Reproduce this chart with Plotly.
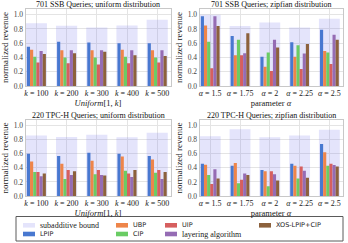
import plotly.graph_objects as go

# ---------------- data ----------------
uniform_cats = ["<i>k</i> = 100", "<i>k</i> = 200", "<i>k</i> = 300", "<i>k</i> = 400", "<i>k</i> = 500"]
zipf_cats = ["<i>α</i> = 1.5", "<i>α</i> = 1.75", "<i>α</i> = 2", "<i>α</i> = 2.25", "<i>α</i> = 2.5"]

series_names = ["LPIP", "UBP", "CIP", "UIP", "layering algorithm", "XOS-LPIP+CIP"]
bound_name = "subadditive bound"

ssb_uni_bound = [0.88, 0.845, 0.82, 0.85, 0.93]
ssb_uni_lpip = [0.55, 0.62, 0.61, 0.60, 0.60]
ssb_uni_ubp = [0.51, 0.50, 0.50, 0.51, 0.50]
ssb_uni_cip = [0.41, 0.40, 0.40, 0.41, 0.40]
ssb_uni_uip = [0.33, 0.32, 0.30, 0.32, 0.33]
ssb_uni_layer = [0.49, 0.50, 0.50, 0.50, 0.50]
ssb_uni_xos = [0.45, 0.46, 0.48, 0.43, 0.42]

ssb_zipf_bound = [1.0, 0.84, 0.89, 0.82, 0.945]
ssb_zipf_lpip = [0.98, 0.70, 0.41, 0.615, 0.79]
ssb_zipf_ubp = [0.85, 0.43, 0.27, 0.41, 0.49]
ssb_zipf_cip = [0.62, 0.65, 0.47, 0.57, 0.47]
ssb_zipf_uip = [0.25, 0.43, 0.21, 0.24, 0.31]
ssb_zipf_layer = [0.98, 0.46, 0.65, 0.455, 0.72]
ssb_zipf_xos = [0.84, 0.74, 0.54, 0.59, 0.65]

tpch_uni_bound = [0.86, 0.84, 0.87, 0.835, 0.90]
tpch_uni_lpip = [0.60, 0.57, 0.615, 0.60, 0.57]
tpch_uni_ubp = [0.49, 0.46, 0.50, 0.56, 0.52]
tpch_uni_cip = [0.34, 0.24, 0.31, 0.36, 0.33]
tpch_uni_uip = [0.34, 0.37, 0.37, 0.32, 0.37]
tpch_uni_layer = [0.28, 0.30, 0.30, 0.27, 0.24]
tpch_uni_xos = [0.32, 0.35, 0.29, 0.37, 0.34]

tpch_zipf_bound = [0.85, 0.95, 0.835, 0.86, 0.94]
tpch_zipf_lpip = [0.46, 0.43, 0.37, 0.46, 0.74]
tpch_zipf_ubp = [0.445, 0.47, 0.35, 0.43, 0.62]
tpch_zipf_cip = [0.30, 0.18, 0.14, 0.25, 0.43]
tpch_zipf_uip = [0.17, 0.23, 0.35, 0.42, 0.46]
tpch_zipf_layer = [0.38, 0.32, 0.31, 0.36, 0.44]
tpch_zipf_xos = [0.25, 0.30, 0.22, 0.26, 0.42]

# ---------------- style ----------------
W, H = 348, 243
SERIF = "Liberation Serif"
SANS = "DejaVu Sans"
colors = ["#4878d0", "#ee854a", "#6acc64", "#d65f5f", "#956cb4", "#8c613c"]
bound_color = "rgba(110,110,235,0.19)"

panels = [
    dict(title="701 SSB Queries; uniform distribution", cats=uniform_cats,
         bound=ssb_uni_bound,
         vals=[ssb_uni_lpip, ssb_uni_ubp, ssb_uni_cip, ssb_uni_uip, ssb_uni_layer, ssb_uni_xos],
         xtitle="<i>Uniform</i>[1, <i>k</i>]", px_x=(25.5, 170.5), px_y=(9, 86)),
    dict(title="701 SSB Queries; zipfian distribution", cats=zipf_cats,
         bound=ssb_zipf_bound,
         vals=[ssb_zipf_lpip, ssb_zipf_ubp, ssb_zipf_cip, ssb_zipf_uip, ssb_zipf_layer, ssb_zipf_xos],
         xtitle="parameter <i>α</i>", px_x=(199.5, 342.5), px_y=(9, 86)),
    dict(title="220 TPC-H Queries; uniform distribution", cats=uniform_cats,
         bound=tpch_uni_bound,
         vals=[tpch_uni_lpip, tpch_uni_ubp, tpch_uni_cip, tpch_uni_uip, tpch_uni_layer, tpch_uni_xos],
         xtitle="<i>Uniform</i>[1, <i>k</i>]", px_x=(25.5, 170.5), px_y=(120, 196)),
    dict(title="220 TPC-H Queries; zipfian distribution", cats=zipf_cats,
         bound=tpch_zipf_bound,
         vals=[tpch_zipf_lpip, tpch_zipf_ubp, tpch_zipf_cip, tpch_zipf_uip, tpch_zipf_layer, tpch_zipf_xos],
         xtitle="parameter <i>α</i>", px_x=(199.5, 342.5), px_y=(120, 196)),
]

fig = go.Figure()
layout = dict(
    width=W, height=H, margin=dict(l=0, r=0, t=0, b=0, autoexpand=False),
    paper_bgcolor="white", plot_bgcolor="white",
    barmode="overlay", showlegend=False,
    font=dict(family=SERIF, size=8, color="#222"),
)
annotations = []
shapes = []
bar_w = 0.105
n = len(series_names)

for i, p in enumerate(panels):
    k = "" if i == 0 else str(i + 1)
    xa, ya = "x" + k, "y" + k
    fig.add_trace(go.Bar(x=p["cats"], y=p["bound"], xaxis=xa, yaxis=ya,
                         width=0.7, offset=-0.35, marker=dict(color=bound_color, line=dict(width=0)),
                         name=bound_name))
    for j, (name, vals) in enumerate(zip(series_names, p["vals"])):
        fig.add_trace(go.Bar(x=p["cats"], y=vals, xaxis=xa, yaxis=ya,
                             width=bar_w, offset=-n * bar_w / 2 + j * bar_w,
                             marker=dict(color=colors[j], line=dict(width=0)),
                             name=name))
    x0, x1 = p["px_x"]
    y0, y1 = p["px_y"]
    layout["xaxis" + k] = dict(
        domain=[x0 / W, x1 / W], anchor=ya, type="category",
        categoryorder="array", categoryarray=p["cats"],
        range=[-0.36, 4.44], showgrid=True, gridcolor="#e4e4e4", gridwidth=1,
        showline=True, linecolor="#c8c8c8", linewidth=1, mirror=True,
        ticks="", ticklabelstandoff=-1, tickfont=dict(size=8, family=SERIF, color="#222"),
        title=dict(text=p["xtitle"], font=dict(size=8.5, family=SERIF, color="#222"), standoff=0),
        fixedrange=True,
    )
    layout["yaxis" + k] = dict(
        domain=[1 - y1 / H, 1 - y0 / H], anchor=xa,
        range=[0, 1.08], tickvals=[0, 0.2, 0.4, 0.6, 0.8, 1.0], tickformat=".1f",
        showgrid=True, gridcolor="#e4e4e4", gridwidth=1, zeroline=False,
        showline=True, linecolor="#c8c8c8", linewidth=1, mirror=True,
        ticks="", tickfont=dict(size=7.5, family=SERIF, color="#444"),
        title=dict(text="normalized revenue", font=dict(size=9, family=SERIF, color="#222"), standoff=3),
        fixedrange=True,
    )
    annotations.append(dict(
        text=p["title"], x=(x0 + x1) / 2 / W, y=1 - (y0 - 4.5) / H,
        xref="paper", yref="paper", xanchor="center", yanchor="middle",
        showarrow=False, font=dict(size=8, family=SERIF, color="#111"),
    ))

# ---------------- legend (matplotlib-style 4-column box) ----------------
legend_entries = [
    (bound_name, bound_color, SERIF, 8, 23, 225.3),
    (series_names[0], colors[0], SANS, 6.5, 23, 234),
    (series_names[1], colors[1], SANS, 6.5, 116, 225.3),
    (series_names[2], colors[2], SANS, 6.5, 116, 234),
    (series_names[3], colors[3], SANS, 6.5, 165, 225.3),
    (series_names[4], colors[4], SERIF, 8, 165, 234),
    (series_names[5], colors[5], SANS, 6.5, 259, 225.3),
]
shapes.append(dict(type="rect", xref="paper", yref="paper",
                   x0=16 / W, x1=343 / W, y0=1 - 241 / H, y1=1 - 216.5 / H,
                   line=dict(color="#5a5a5a", width=1), fillcolor="white", layer="above"))
for name, col, fam, fs, sx, sy in legend_entries:
    shapes.append(dict(type="rect", xref="paper", yref="paper",
                       x0=sx / W, x1=(sx + 12) / W, y0=1 - (sy + 2.3) / H, y1=1 - (sy - 2.3) / H,
                       line=dict(width=0), fillcolor=col, layer="above"))
    annotations.append(dict(
        text=name, x=(sx + 16) / W, y=1 - sy / H, xref="paper", yref="paper",
        xanchor="left", yanchor="middle", showarrow=False, borderpad=0,
        font=dict(size=fs, family=fam, color="#222"),
    ))

layout["shapes"] = shapes
layout["annotations"] = annotations
fig.update_layout(**layout)
fig.write_html("out.html", config={"displayModeBar": False},
               post_script="document.body.style.margin='0';document.body.style.overflow='hidden';")
